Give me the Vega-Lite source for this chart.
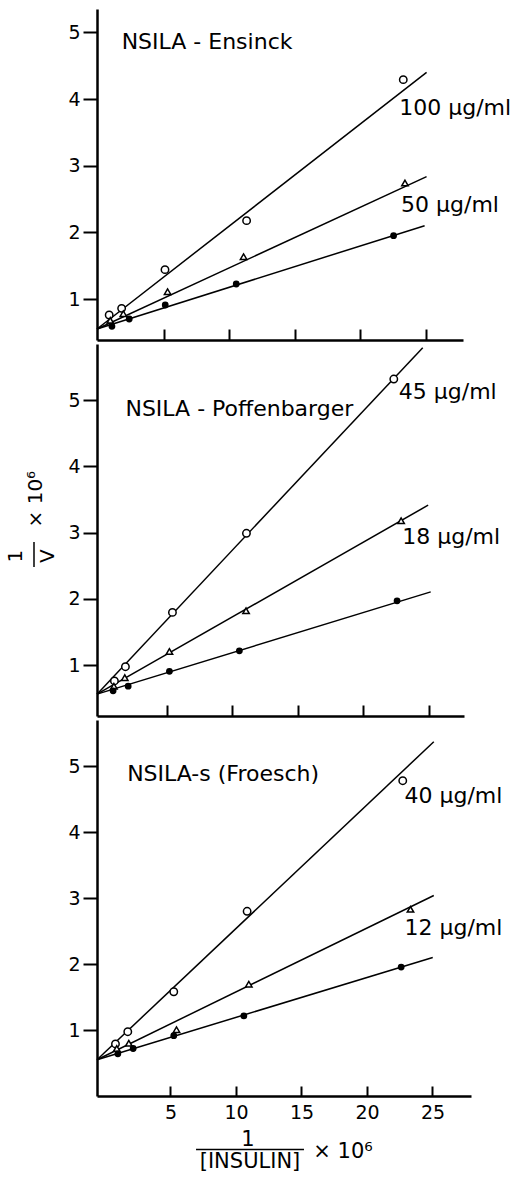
{
  "$schema": "https://vega.github.io/schema/vega-lite/v6.json",
  "background": "white",
  "padding": {"left": 5, "top": 9, "right": 5, "bottom": 5},
  "config": {
    "view": {"stroke": null},
    "font": "DejaVu Sans",
    "axis": {"domainColor": "black", "domainWidth": 2.5, "tickColor": "black", "tickWidth": 2, "labelFont": "DejaVu Sans", "labelFontSize": 19, "labelColor": "black", "grid": false, "title": null}
  },
  "datasets": {
    "pts": [
      {"p": 1, "m": "o", "x": 0.82, "y": 0.76}, {"p": 1, "m": "o", "x": 1.77, "y": 0.86}, {"p": 1, "m": "o", "x": 5.08, "y": 1.44}, {"p": 1, "m": "o", "x": 11.31, "y": 2.175}, {"p": 1, "m": "o", "x": 23.27, "y": 4.29},
      {"p": 1, "m": "t", "x": 0.9, "y": 0.68}, {"p": 1, "m": "t", "x": 1.9, "y": 0.78}, {"p": 1, "m": "t", "x": 5.28, "y": 1.11}, {"p": 1, "m": "t", "x": 11.08, "y": 1.635}, {"p": 1, "m": "t", "x": 23.4, "y": 2.74},
      {"p": 1, "m": "c", "x": 1.03, "y": 0.59}, {"p": 1, "m": "c", "x": 2.35, "y": 0.7}, {"p": 1, "m": "c", "x": 5.1, "y": 0.91}, {"p": 1, "m": "c", "x": 10.52, "y": 1.225}, {"p": 1, "m": "c", "x": 22.53, "y": 1.95},
      {"p": 2, "m": "o", "x": 0.99, "y": 0.76}, {"p": 2, "m": "o", "x": 1.83, "y": 0.975}, {"p": 2, "m": "o", "x": 5.42, "y": 1.795}, {"p": 2, "m": "o", "x": 11.07, "y": 2.99}, {"p": 2, "m": "o", "x": 22.32, "y": 5.32},
      {"p": 2, "m": "t", "x": 0.95, "y": 0.68}, {"p": 2, "m": "t", "x": 1.78, "y": 0.81}, {"p": 2, "m": "t", "x": 5.19, "y": 1.205}, {"p": 2, "m": "t", "x": 11.04, "y": 1.82}, {"p": 2, "m": "t", "x": 22.88, "y": 3.18},
      {"p": 2, "m": "c", "x": 0.89, "y": 0.61}, {"p": 2, "m": "c", "x": 2.04, "y": 0.68}, {"p": 2, "m": "c", "x": 5.19, "y": 0.905}, {"p": 2, "m": "c", "x": 10.53, "y": 1.215}, {"p": 2, "m": "c", "x": 22.57, "y": 1.97},
      {"p": 3, "m": "o", "x": 0.8, "y": 0.79}, {"p": 3, "m": "o", "x": 1.74, "y": 0.975}, {"p": 3, "m": "o", "x": 5.25, "y": 1.58}, {"p": 3, "m": "o", "x": 10.85, "y": 2.8}, {"p": 3, "m": "o", "x": 22.73, "y": 4.78},
      {"p": 3, "m": "t", "x": 0.9, "y": 0.72}, {"p": 3, "m": "t", "x": 1.82, "y": 0.8}, {"p": 3, "m": "t", "x": 5.46, "y": 1.005}, {"p": 3, "m": "t", "x": 10.98, "y": 1.695}, {"p": 3, "m": "t", "x": 23.32, "y": 2.83},
      {"p": 3, "m": "c", "x": 0.98, "y": 0.64}, {"p": 3, "m": "c", "x": 2.15, "y": 0.72}, {"p": 3, "m": "c", "x": 5.25, "y": 0.915}, {"p": 3, "m": "c", "x": 10.6, "y": 1.215}, {"p": 3, "m": "c", "x": 22.61, "y": 1.955}
    ],
    "lines": [
      {"p": 1, "s": "a", "x": -0.11, "y": 0.55}, {"p": 1, "s": "a", "x": 25.05, "y": 4.4},
      {"p": 1, "s": "b", "x": -0.11, "y": 0.55}, {"p": 1, "s": "b", "x": 25.05, "y": 2.835},
      {"p": 1, "s": "c", "x": -0.11, "y": 0.55}, {"p": 1, "s": "c", "x": 24.9, "y": 2.1},
      {"p": 2, "s": "a", "x": -0.34, "y": 0.56}, {"p": 2, "s": "a", "x": 24.53, "y": 5.795},
      {"p": 2, "s": "b", "x": -0.34, "y": 0.56}, {"p": 2, "s": "b", "x": 24.94, "y": 3.415},
      {"p": 2, "s": "c", "x": -0.34, "y": 0.56}, {"p": 2, "s": "c", "x": 25.14, "y": 2.105},
      {"p": 3, "s": "a", "x": -0.61, "y": 0.55}, {"p": 3, "s": "a", "x": 25.1, "y": 5.37},
      {"p": 3, "s": "b", "x": -0.61, "y": 0.55}, {"p": 3, "s": "b", "x": 25.1, "y": 3.04},
      {"p": 3, "s": "c", "x": -0.61, "y": 0.55}, {"p": 3, "s": "c", "x": 25.02, "y": 2.1}
    ],
    "labels": [
      {"p": 1, "t": "NSILA - Ensinck", "x": 1.77, "y": 4.86},
      {"p": 1, "t": "100 µg/ml", "x": 22.96, "y": 3.865},
      {"p": 1, "t": "50 µg/ml", "x": 23.1, "y": 2.415},
      {"p": 2, "t": "NSILA - Poffenbarger", "x": 1.83, "y": 4.865},
      {"p": 2, "t": "45 µg/ml", "x": 22.7, "y": 5.13},
      {"p": 2, "t": "18 µg/ml", "x": 22.96, "y": 2.93},
      {"p": 3, "t": "NSILA-s (Froesch)", "x": 1.69, "y": 4.88},
      {"p": 3, "t": "40 µg/ml", "x": 22.86, "y": 4.55},
      {"p": 3, "t": "12 µg/ml", "x": 22.86, "y": 2.54}
    ],
    "ytitle": [
      {"t": "1", "x": -6.56, "y": 2.645},
      {"t": "V", "x": -4.08, "y": 2.645},
      {"t": "× 10⁶", "x": -5.0, "y": 3.506}
    ],
    "ybar": [{"x": -5.15, "y": 2.86, "y2": 2.48}],
    "xtitle": [
      {"t": "1", "x": 10.92, "y": -0.66},
      {"t": "[INSULIN]", "x": 11.07, "y": -1.0},
      {"t": "× 10⁶", "x": 18.17, "y": -0.85}
    ],
    "xbar": [{"x": 6.95, "x2": 15.19, "y": -0.81}]
  },
  "spacing": 4,
  "bounds": "flush",
  "vconcat": [
    {
      "width": 366, "height": 331,
      "layer": [
        {
          "data": {"name": "lines"}, "transform": [{"filter": "datum.p == 1"}],
          "mark": {"type": "line", "color": "black", "strokeWidth": 1.5},
          "encoding": {
            "x": {"field": "x", "type": "quantitative", "scale": {"domain": [-0.11, 27.83], "nice": false, "zero": false}, "axis": {"values": [5, 10, 15, 20, 25], "tickSize": -11, "labels": false}},
            "y": {"field": "y", "type": "quantitative", "scale": {"domain": [0.385, 5.35], "nice": false, "zero": false}, "axis": {"values": [1, 2, 3, 4, 5], "format": "d", "tickSize": 14, "labelPadding": 3}},
            "detail": {"field": "s"}
          }
        },
        {
          "data": {"name": "pts"}, "transform": [{"filter": "datum.p == 1"}],
          "mark": {"type": "point", "stroke": "black", "strokeWidth": 1.5, "opacity": 1},
          "encoding": {
            "x": {"field": "x", "type": "quantitative"},
            "y": {"field": "y", "type": "quantitative"},
            "shape": {"field": "m", "scale": {"domain": ["o", "t", "c"], "range": ["circle", "triangle-up", "circle"]}, "legend": null},
            "fill": {"field": "m", "scale": {"domain": ["o", "t", "c"], "range": ["white", "white", "black"]}, "legend": null},
            "size": {"field": "m", "type": "nominal", "scale": {"domain": ["o", "t", "c"], "range": [55, 28, 55]}, "legend": null}
          }
        },
        {
          "data": {"name": "labels"}, "transform": [{"filter": "datum.p == 1"}],
          "mark": {"type": "text", "align": "left", "baseline": "middle", "fontSize": 22, "color": "black"},
          "encoding": {
            "x": {"field": "x", "type": "quantitative"},
            "y": {"field": "y", "type": "quantitative"},
            "text": {"field": "t"}
          }
        }
      ]
    },
    {
      "width": 367, "height": 372,
      "layer": [
        {
          "data": {"name": "lines"}, "transform": [{"filter": "datum.p == 2"}],
          "mark": {"type": "line", "color": "black", "strokeWidth": 1.5},
          "encoding": {
            "x": {"field": "x", "type": "quantitative", "scale": {"domain": [-0.34, 27.68], "nice": false, "zero": false}, "axis": {"values": [5, 10, 15, 20, 25], "tickSize": -11, "labels": false}},
            "y": {"field": "y", "type": "quantitative", "scale": {"domain": [0.23, 5.85], "nice": false, "zero": false}, "axis": {"values": [1, 2, 3, 4, 5], "format": "d", "tickSize": 14, "labelPadding": 3}},
            "detail": {"field": "s"}
          }
        },
        {
          "mark": {"type": "rule", "color": "black", "strokeWidth": 2.5},
          "encoding": {"y": {"datum": 5.85}}
        },
        {
          "data": {"name": "pts"}, "transform": [{"filter": "datum.p == 2"}],
          "mark": {"type": "point", "stroke": "black", "strokeWidth": 1.5, "opacity": 1},
          "encoding": {
            "x": {"field": "x", "type": "quantitative"},
            "y": {"field": "y", "type": "quantitative"},
            "shape": {"field": "m", "scale": {"domain": ["o", "t", "c"], "range": ["circle", "triangle-up", "circle"]}, "legend": null},
            "fill": {"field": "m", "scale": {"domain": ["o", "t", "c"], "range": ["white", "white", "black"]}, "legend": null},
            "size": {"field": "m", "type": "nominal", "scale": {"domain": ["o", "t", "c"], "range": [55, 28, 55]}, "legend": null}
          }
        },
        {
          "data": {"name": "labels"}, "transform": [{"filter": "datum.p == 2"}],
          "mark": {"type": "text", "align": "left", "baseline": "middle", "fontSize": 22, "color": "black"},
          "encoding": {
            "x": {"field": "x", "type": "quantitative"},
            "y": {"field": "y", "type": "quantitative"},
            "text": {"field": "t"}
          }
        },
        {
          "data": {"name": "ytitle"},
          "mark": {"type": "text", "align": "center", "baseline": "middle", "angle": 270, "fontSize": 20, "color": "black"},
          "encoding": {
            "x": {"field": "x", "type": "quantitative"},
            "y": {"field": "y", "type": "quantitative"},
            "text": {"field": "t"}
          }
        },
        {
          "data": {"name": "ybar"},
          "mark": {"type": "rule", "color": "black", "strokeWidth": 1.5},
          "encoding": {
            "x": {"field": "x", "type": "quantitative"},
            "y": {"field": "y", "type": "quantitative"},
            "y2": {"field": "y2"}
          }
        }
      ]
    },
    {
      "width": 374, "height": 376,
      "layer": [
        {
          "data": {"name": "lines"}, "transform": [{"filter": "datum.p == 3"}],
          "mark": {"type": "line", "color": "black", "strokeWidth": 1.5},
          "encoding": {
            "x": {"field": "x", "type": "quantitative", "scale": {"domain": [-0.61, 27.94], "nice": false, "zero": false}, "axis": {"values": [5, 10, 15, 20, 25], "tickSize": -10, "labelPadding": 17}},
            "y": {"field": "y", "type": "quantitative", "scale": {"domain": [0, 5.7], "nice": false, "zero": false}, "axis": {"values": [1, 2, 3, 4, 5], "format": "d", "tickSize": 14, "labelPadding": 3}},
            "detail": {"field": "s"}
          }
        },
        {
          "mark": {"type": "rule", "color": "black", "strokeWidth": 2.5},
          "encoding": {"y": {"datum": 5.7}}
        },
        {
          "data": {"name": "pts"}, "transform": [{"filter": "datum.p == 3"}],
          "mark": {"type": "point", "stroke": "black", "strokeWidth": 1.5, "opacity": 1},
          "encoding": {
            "x": {"field": "x", "type": "quantitative"},
            "y": {"field": "y", "type": "quantitative"},
            "shape": {"field": "m", "scale": {"domain": ["o", "t", "c"], "range": ["circle", "triangle-up", "circle"]}, "legend": null},
            "fill": {"field": "m", "scale": {"domain": ["o", "t", "c"], "range": ["white", "white", "black"]}, "legend": null},
            "size": {"field": "m", "type": "nominal", "scale": {"domain": ["o", "t", "c"], "range": [55, 28, 55]}, "legend": null}
          }
        },
        {
          "data": {"name": "labels"}, "transform": [{"filter": "datum.p == 3"}],
          "mark": {"type": "text", "align": "left", "baseline": "middle", "fontSize": 22, "color": "black"},
          "encoding": {
            "x": {"field": "x", "type": "quantitative"},
            "y": {"field": "y", "type": "quantitative"},
            "text": {"field": "t"}
          }
        },
        {
          "data": {"name": "xtitle"},
          "mark": {"type": "text", "align": "center", "baseline": "middle", "fontSize": 21, "color": "black"},
          "encoding": {
            "x": {"field": "x", "type": "quantitative"},
            "y": {"field": "y", "type": "quantitative"},
            "text": {"field": "t"}
          }
        },
        {
          "data": {"name": "xbar"},
          "mark": {"type": "rule", "color": "black", "strokeWidth": 1.5},
          "encoding": {
            "x": {"field": "x", "type": "quantitative"},
            "x2": {"field": "x2"},
            "y": {"field": "y", "type": "quantitative"}
          }
        }
      ]
    }
  ]
}
